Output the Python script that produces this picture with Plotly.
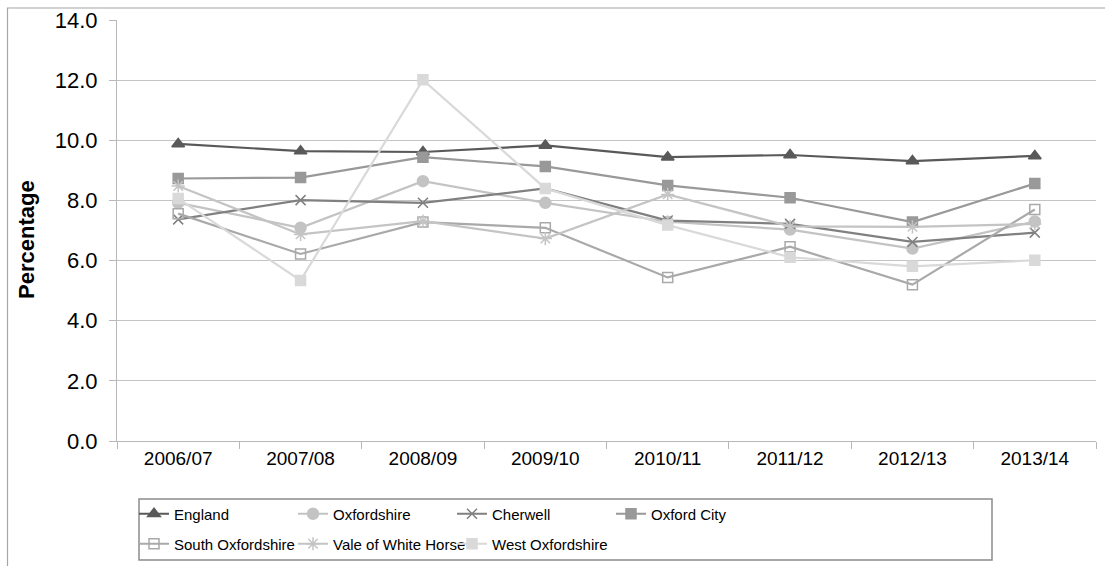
import plotly.graph_objects as go

years = ["2006/07", "2007/08", "2008/09", "2009/10", "2010/11", "2011/12", "2012/13", "2013/14"]
england = [9.88, 9.64, 9.61, 9.83, 9.44, 9.51, 9.31, 9.48]
oxfordshire = [7.92, 7.09, 8.64, 7.92, 7.29, 7.03, 6.40, 7.30]
cherwell = [7.37, 8.01, 7.92, 8.40, 7.33, 7.22, 6.62, 6.93]
oxford_city = [8.73, 8.76, 9.44, 9.13, 8.50, 8.09, 7.28, 8.56]
south_oxfordshire = [7.56, 6.22, 7.28, 7.09, 5.44, 6.46, 5.20, 7.70]
vale_white_horse = [8.48, 6.87, 7.31, 6.73, 8.20, 7.14, 7.12, 7.22]
west_oxfordshire = [8.06, 5.34, 12.01, 8.40, 7.18, 6.11, 5.81, 6.01]

W, H = 1105, 566
L, R, T, B = 117, 1096, 20, 441

def px(x):
    return (x - L) / (R - L)

def py(y):
    return (B - y) / (B - T)

series = [
    ("England", england, "#595959", "triangle-up", 11, "legend"),
    ("Oxfordshire", oxfordshire, "#c3c3c3", "circle", 11, "legend"),
    ("Cherwell", cherwell, "#808080", "x-thin-open", 10, "legend"),
    ("Oxford City", oxford_city, "#999999", "square", 10, "legend"),
    ("South Oxfordshire", south_oxfordshire, "#a9a9a9", "square-open", 10, "legend2"),
    ("Vale of White Horse", vale_white_horse, "#c4c4c4", "asterisk-open", 11, "legend2"),
    ("West Oxfordshire", west_oxfordshire, "#d9d9d9", "square", 10, "legend2"),
]

fig = go.Figure()
for name, vals, col, sym, size, lg in series:
    fig.add_trace(go.Scatter(
        x=years, y=vals, name=name, mode="lines+markers",
        line=dict(color=col, width=2.2),
        marker=dict(symbol=sym, size=size, color=col, line=dict(color=col, width=1.5)),
        legend=lg,
    ))

font = "Liberation Sans, Arial, sans-serif"
legend_common = dict(
    orientation="h", xanchor="left", yanchor="middle",
    font=dict(family=font, size=15, color="#000000"),
    bgcolor="rgba(0,0,0,0)", borderwidth=0,
    itemwidth=30, entrywidth=114, entrywidthmode="pixels",
    traceorder="normal",
)

fig.update_layout(
    width=W, height=H,
    margin=dict(l=L, r=W - R, t=T, b=H - B, pad=0, autoexpand=False),
    paper_bgcolor="white", plot_bgcolor="white",
    font=dict(family=font, color="#000000"),
    showlegend=True,
    legend=dict(x=px(134), y=py(514), **legend_common),
    legend2=dict(x=px(134), y=py(544), **legend_common),
    xaxis=dict(
        type="category", range=[-0.5, 7.5],
        showgrid=False, showline=True, linecolor="#b8b8b8", linewidth=1,
        ticks="outside", tickson="boundaries", ticklen=7, tickcolor="#b8b8b8",
        tickfont=dict(family=font, size=19, color="#000000"),
        zeroline=False, fixedrange=True, automargin=False,
    ),
    yaxis=dict(
        range=[0, 14], dtick=2, tickformat=".1f",
        showgrid=True, gridcolor="#c4c4c4", gridwidth=1,
        showline=True, linecolor="#b8b8b8", linewidth=1,
        ticks="outside", ticklen=7, tickcolor="#b8b8b8",
        ticklabelstandoff=7,
        tickfont=dict(family=font, size=22, color="#000000"),
        zeroline=False, fixedrange=True, automargin=False,
    ),
    annotations=[dict(
        text="<b>Percentage</b>", x=px(27), y=py(240), xref="paper", yref="paper",
        textangle=-90, showarrow=False, xanchor="center", yanchor="middle",
        font=dict(family=font, size=22, color="#000000"),
    )],
    shapes=[
        dict(type="rect", xref="paper", yref="paper",
             x0=px(139), x1=px(992), y0=py(499), y1=py(560),
             line=dict(color="#8c8c8c", width=1.5), layer="below"),
        dict(type="path", xref="paper", yref="paper",
             path=f"M {px(7.5)} {py(566)} L {px(7.5)} {py(8)} L {px(1105)} {py(8)}",
             line=dict(color="#a6a6a6", width=1.2)),
    ],
)

fig.write_html(
    "out.html",
    config={"displayModeBar": False},
    post_script="document.body.style.margin='0';document.body.style.overflow='hidden';",
)
